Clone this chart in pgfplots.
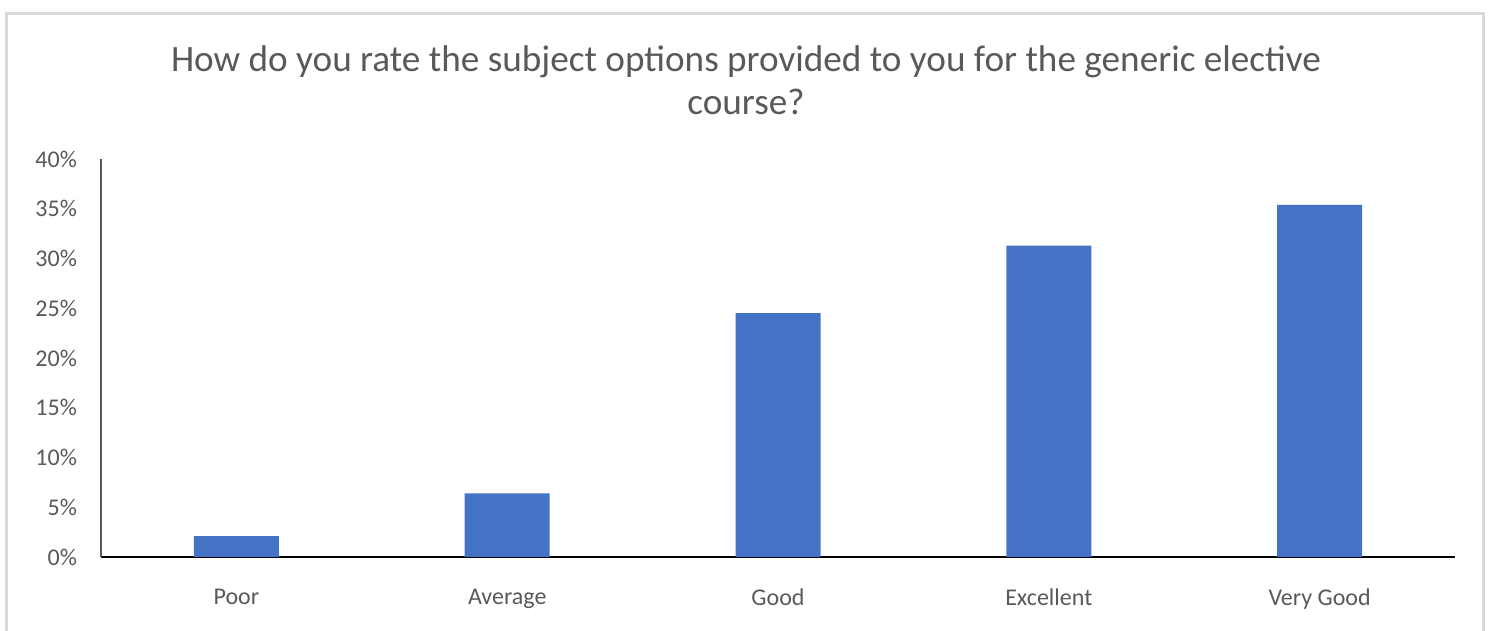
\documentclass[border=0pt]{standalone}
\usepackage{pgfplots}
\pgfplotsset{compat=1.18}
\usepackage{fontspec}
\setmainfont{Carlito}
\definecolor{barblue}{HTML}{4472C4}
\definecolor{txt}{HTML}{595959}
\definecolor{framec}{HTML}{D9D9D9}
\begin{document}
\begin{tikzpicture}[x=0.5pt,y=0.5pt]
\useasboundingbox (0,0) rectangle (1493,631);
\draw[framec, line width=1.5pt] (6,-10) rectangle (1483,617);
\node[text=txt, font=\fontsize{18.6}{21.5}\selectfont, align=center] at (746,551)
  {How do you rate the subject options provided to you for the generic elective\\course?};
\begin{axis}[
  at={(50.5pt,37pt)}, anchor=south west,
  scale only axis, width=677pt, height=199pt,
  ymin=0, ymax=40, ytick={0,5,...,40},
  /pgf/number format/assume math mode=true,
  yticklabel={\pgfmathprintnumber{\tick}\%},
  xmin=-0.5, xmax=4.5, xtick={0,1,2,3,4},
  xticklabels={Poor,Average,Good,Excellent,Very Good},
  axis x line*=bottom, axis y line*=left,
  x axis line style={black, line width=1pt},
  y axis line style={txt, line width=0.7pt},
  major tick length=0pt,
  tick label style={text=txt, font=\fontsize{12}{14}\selectfont},
  yticklabel style={xshift=-8.5pt},
  xticklabel style={yshift=-12.5pt},
  clip=false,
]
\addplot[ybar, bar width=42.5pt, fill=barblue, draw=none] coordinates {
  (0,2.1) (1,6.4) (2,24.5) (3,31.3) (4,35.4)
};
\end{axis}
\end{tikzpicture}
\end{document}
